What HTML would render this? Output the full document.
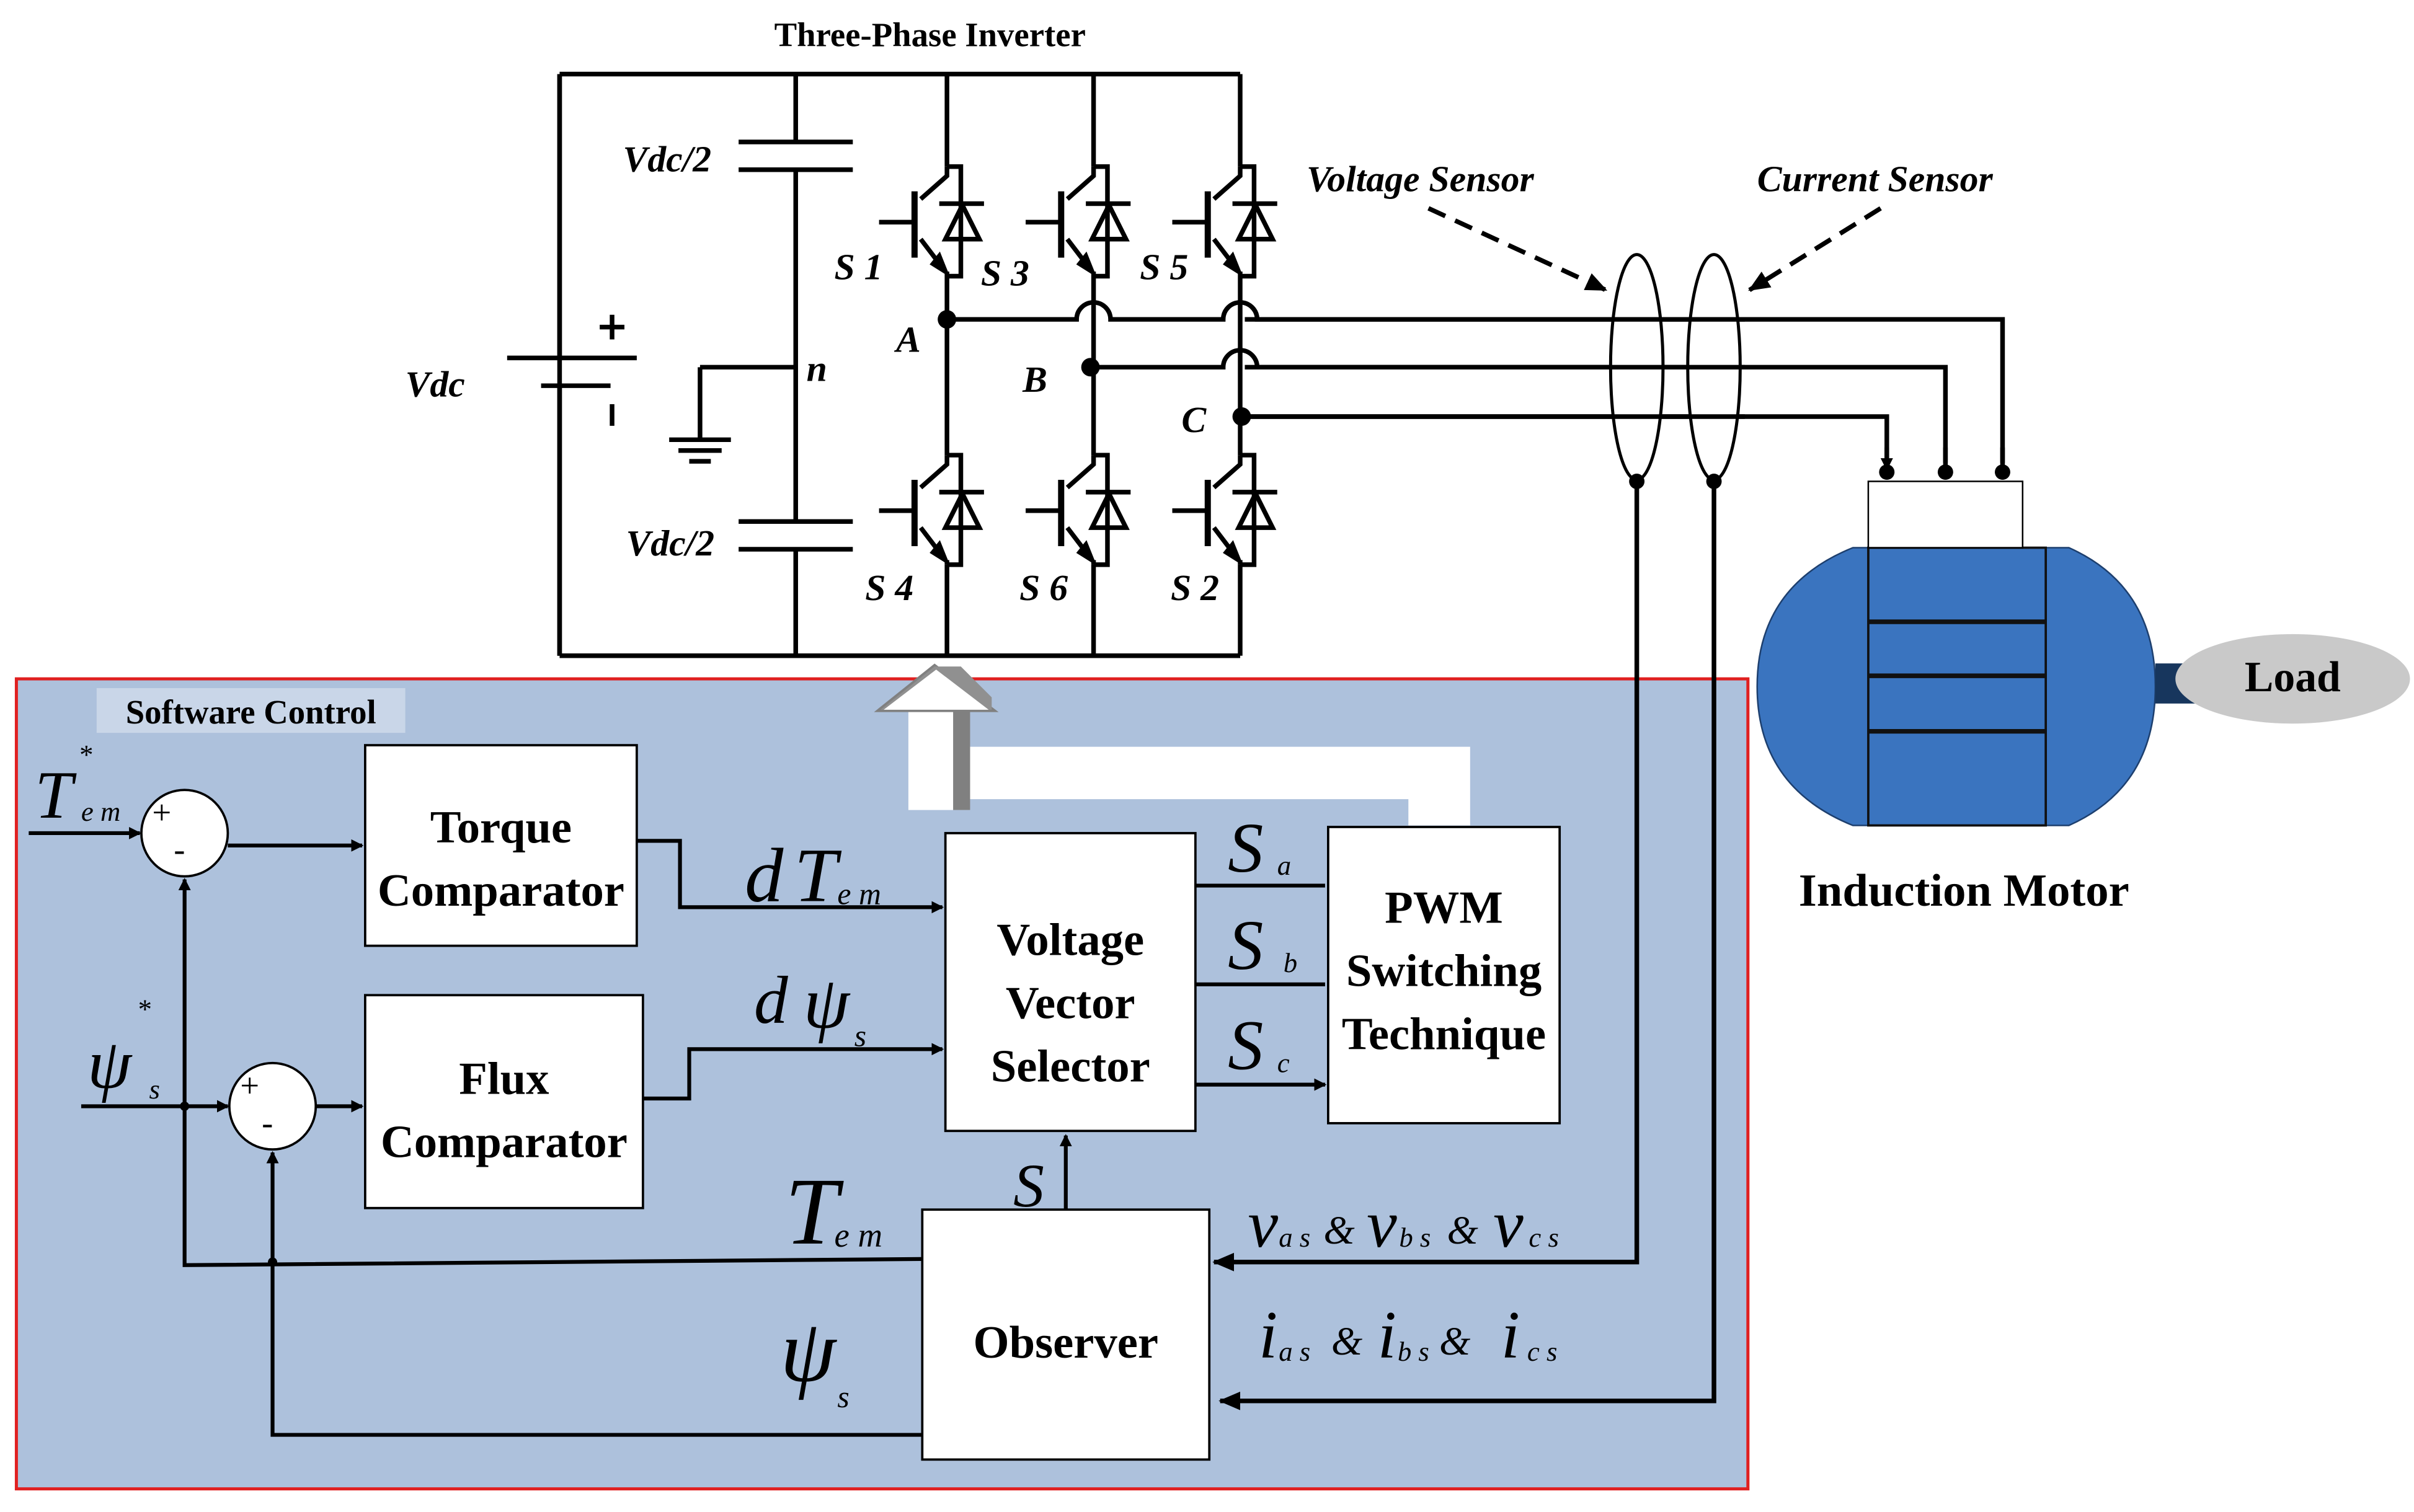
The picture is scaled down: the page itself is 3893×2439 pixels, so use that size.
<!DOCTYPE html>
<html><head><meta charset="utf-8"><style>html,body{margin:0;padding:0;background:#fff}svg{display:block}</style></head><body>
<svg width="3893" height="2439" viewBox="0 0 1563 980" xmlns="http://www.w3.org/2000/svg" font-family="Liberation Serif, serif">
<defs>
<marker id="ar" markerWidth="8" markerHeight="8" refX="7" refY="4" orient="auto" markerUnits="userSpaceOnUse"><path d="M0,0 L8,4 L0,8 z" fill="#000"/></marker>
<marker id="ar2" markerWidth="14" markerHeight="12" refX="13" refY="6" orient="auto" markerUnits="userSpaceOnUse"><path d="M0,0 L14,6 L0,12 z" fill="#000"/></marker>
<g id="sw" stroke="#000" stroke-width="3" fill="none">
<path d="M0,0 H9 V71 H0"/>
<path d="M0,0 V6 L-17,21"/>
<path d="M-21,16 V59" stroke-width="4"/>
<path d="M-44,36 H-21"/>
<path d="M-17,47 L-1,68"/>
<path d="M-1,68 L-9,63 L-5,58 z" fill="#000"/>
<path d="M-5,24 H24"/>
<path d="M-1,47 H21 L10,25 z"/>
<path d="M0,68 V71"/>
</g>
</defs>
<rect width="1563" height="980" fill="#fff"/>
<!-- inverter -->
<g stroke="#000" stroke-width="3" fill="none">
<path d="M362,48 H803 M362,425 H803 M362,48 V425"/>
<path d="M613,48 V108 M613,179 V295 M613,366 V425"/>
<path d="M708,48 V108 M708,179 V295 M708,366 V425"/>
<path d="M803,48 V108 M803,179 V295 M803,366 V425"/>
<path d="M515,48 V92 M478,92 H552 M478,110 H552 M515,110 V338 M478,338 H552 M478,356 H552 M515,356 V425"/>
<path d="M453,238 H515 M453,238 V285 M433,285 H473 M439,292 H467 M446,299 H460"/>
<path d="M362,48 V232 M328,232 H412 M350,250 H395 M362,250 V425"/>
<path d="M396,262 V276" />
<path d="M388,212 H404 M396,204 V220"/>
<path d="M613,207 H697 A11,11 0 0 1 719,207 H792 A11,11 0 0 1 814,207 H1297 V300" />
<path d="M706,238 H792 A11,11 0 0 1 814,238 H1260 V300"/>
<path d="M804,270 H1222 V300"/>
</g>
<path d="M1297,290 V304 M1260,290 V304 M1222,290 V304" stroke="#000" stroke-width="3" marker-end="url(#ar)"/>
<circle cx="613" cy="207" r="6"/><circle cx="706" cy="238" r="6"/><circle cx="804" cy="270" r="6"/>
<circle cx="1297" cy="306" r="5"/><circle cx="1260" cy="306" r="5"/><circle cx="1222" cy="306" r="5"/>
<use href="#sw" x="613" y="108"/><use href="#sw" x="708" y="108"/><use href="#sw" x="803" y="108"/>
<use href="#sw" x="613" y="295"/><use href="#sw" x="708" y="295"/><use href="#sw" x="803" y="295"/>
<g font-style="italic" font-weight="bold" font-size="24">
<text x="540" y="181">S 1</text><text x="635" y="185">S 3</text><text x="738" y="181">S 5</text>
<text x="560" y="389">S 4</text><text x="660" y="389">S 6</text><text x="758" y="389">S 2</text>
<text x="580" y="228">A</text><text x="662" y="254">B</text><text x="765" y="280">C</text>
<text x="522" y="247">n</text>
<text x="403" y="111">Vdc/2</text><text x="405" y="360">Vdc/2</text>
<text x="262" y="257">Vdc</text>
<text x="846" y="124">Voltage Sensor</text><text x="1138" y="124">Current Sensor</text>
</g>
<text x="602" y="30" font-size="22" font-weight="bold" text-anchor="middle">Three-Phase Inverter</text>
<!-- sensors -->
<path d="M925,135 L1040,188" stroke="#000" stroke-width="3" stroke-dasharray="12,7" marker-end="url(#ar2)"/>
<path d="M1218,135 L1133,188" stroke="#000" stroke-width="3" stroke-dasharray="12,7" marker-end="url(#ar2)"/>
<ellipse cx="1060" cy="238" rx="17" ry="73" fill="#fff" stroke="#000" stroke-width="2"/>
<ellipse cx="1110" cy="238" rx="17" ry="73" fill="#fff" stroke="#000" stroke-width="2"/>
<g stroke="#000" stroke-width="3"><path d="M806,207 H1130 M806,238 H1130 M806,270 H1130"/></g>
<!-- motor -->
<path d="M1200,355 H1340 Q1396,380 1396,445 Q1396,510 1340,535 H1200 Q1138,510 1138,445 Q1138,380 1200,355 z" fill="#3a74bf" stroke="#1d3f6e" stroke-width="1"/>
<rect x="1210" y="355" width="115" height="180" fill="#3a74bf" stroke="#111" stroke-width="1.5"/>
<path d="M1210,403 H1325 M1210,438 H1325 M1210,474 H1325" stroke="#111" stroke-width="3"/>
<rect x="1210" y="312" width="100" height="43" fill="#fff" stroke="#000" stroke-width="1"/>
<rect x="1396" y="430" width="26" height="26" fill="#17365d"/>
<ellipse cx="1485" cy="440" rx="76" ry="29" fill="#c9c9c9"/>
<text x="1485" y="448" font-size="28" font-weight="bold" text-anchor="middle">Load</text>
<text x="1272" y="587" font-size="30" font-weight="bold" text-anchor="middle">Induction Motor</text>
<!-- control area -->
<rect x="10" y="440" width="1122" height="525" fill="#adc1dc" stroke="#e02020" stroke-width="2"/>
<rect x="62" y="446" width="200" height="29" fill="#c9d6e8"/>
<text x="162" y="469" font-size="22" font-weight="bold" text-anchor="middle">Software Control</text>
<!-- big arrow -->
<path d="M620,484 H952 V535 H912 V518 H620 z" fill="#fff"/>
<path d="M588,460 H628 V525 H588 z" fill="#fff"/>
<path d="M617,460 H628 V525 H617 z" fill="#808080"/>
<path d="M570,460 L605,432 L642,460 z" fill="#fff" stroke="#808080" stroke-width="3"/>
<path d="M570,460 L605,432 L622,432 L642,452 L642,460 z" fill="#909090"/>
<path d="M572,460 L606,434 L640,460 z" fill="#fff"/>
<!-- boxes -->
<g fill="#fff" stroke="#000" stroke-width="1.5">
<rect x="236" y="483" width="176" height="130"/>
<rect x="236" y="645" width="180" height="138"/>
<rect x="612" y="540" width="162" height="193"/>
<rect x="860" y="536" width="150" height="192"/>
<rect x="597" y="784" width="186" height="162"/>
<circle cx="119" cy="540" r="28"/><circle cx="176" cy="717" r="28"/>
</g>
<g font-size="30" font-weight="bold" text-anchor="middle">
<text x="324" y="546">Torque</text><text x="324" y="587">Comparator</text>
<text x="326" y="709">Flux</text><text x="326" y="750">Comparator</text>
<text x="693" y="619">Voltage</text><text x="693" y="660">Vector</text><text x="693" y="701">Selector</text>
<text x="935" y="598">PWM</text><text x="935" y="639">Switching</text><text x="935" y="680">Technique</text>
<text x="690" y="880">Observer</text>
</g>
<g font-size="22"><text x="98" y="534">+</text><text x="112" y="558">-</text><text x="155" y="711">+</text><text x="169" y="735">-</text></g>
<!-- connectors -->
<g stroke="#000" stroke-width="2.5" fill="none">
<path d="M18,540 H90" marker-end="url(#ar)"/>
<path d="M147,548 H234" marker-end="url(#ar)"/>
<path d="M52,717 H147" marker-end="url(#ar)"/>
<path d="M204,717 H234" marker-end="url(#ar)"/>
<path d="M412,545 H440 V588 H610" marker-end="url(#ar)"/>
<path d="M416,712 H446 V680 H610" marker-end="url(#ar)"/>
<path d="M774,574 H858 M774,638 H858 M774,703 H858" marker-end="url(#ar)"/>
<path d="M690,784 V736" marker-end="url(#ar)"/>
<path d="M597,816 L119,820 V570" marker-end="url(#ar)"/>
<path d="M597,930 H176 V747" marker-end="url(#ar)"/>
<path d="M1060,312 V818 H786" stroke-width="3" marker-end="url(#ar2)"/>
<path d="M1110,312 V908 H790" stroke-width="3" marker-end="url(#ar2)"/>
</g>
<circle cx="1060" cy="312" r="5"/><circle cx="1110" cy="312" r="5"/>
<circle cx="119" cy="717" r="3"/><circle cx="176" cy="818" r="3"/>
<!-- math labels -->
<g font-style="italic">
<text x="22" y="530" font-size="44">T</text><text x="50" y="495" font-size="18">*</text><text x="52" y="532" font-size="18">e m</text>
<text x="56" y="705" font-size="46">ψ</text><text x="88" y="660" font-size="18">*</text><text x="96" y="712" font-size="18">s</text>
<text x="482" y="584" font-size="50">d</text><text x="514" y="584" font-size="50">T</text><text x="542" y="586" font-size="20">e m</text>
<text x="488" y="663" font-size="44">d</text><text x="520" y="666" font-size="48">ψ</text><text x="553" y="678" font-size="20">s</text>
<text x="795" y="565" font-size="46">S</text><text x="827" y="567" font-size="18">a</text>
<text x="795" y="628" font-size="46">S</text><text x="831" y="630" font-size="18">b</text>
<text x="795" y="693" font-size="46">S</text><text x="827" y="695" font-size="18">c</text>
<text x="656" y="782" font-size="40">S</text>
<text x="508" y="806" font-size="62">T</text><text x="540" y="808" font-size="22">e m</text>
<text x="505" y="895" font-size="58">ψ</text><text x="542" y="912" font-size="20">s</text>
<text x="808" y="808" font-size="44">v</text><text x="828" y="808" font-size="18">a s</text><text x="857" y="806" font-size="26">&amp;</text>
<text x="885" y="808" font-size="44">v</text><text x="906" y="808" font-size="18">b s</text><text x="937" y="806" font-size="26">&amp;</text>
<text x="967" y="808" font-size="44">v</text><text x="990" y="808" font-size="18">c s</text>
<text x="815" y="880" font-size="44">i</text><text x="828" y="882" font-size="18">a s</text><text x="862" y="878" font-size="26">&amp;</text>
<text x="892" y="880" font-size="44">i</text><text x="905" y="882" font-size="18">b s</text><text x="932" y="878" font-size="26">&amp;</text>
<text x="972" y="880" font-size="44">i</text><text x="989" y="882" font-size="18">c s</text>
</g>
</svg>
</body></html>
